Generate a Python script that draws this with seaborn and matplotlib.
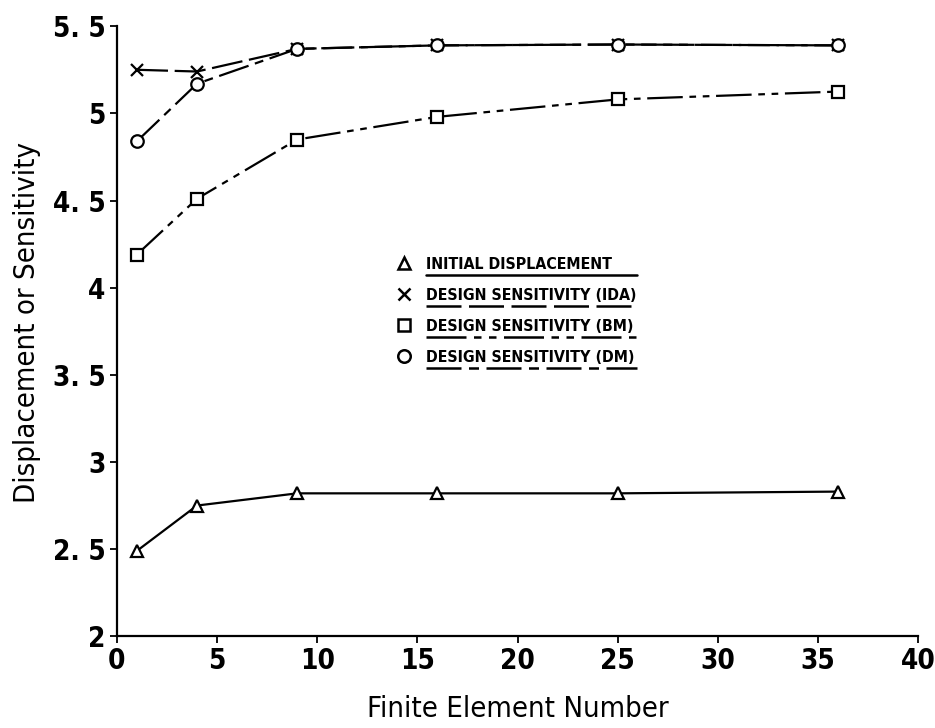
import matplotlib
matplotlib.use("Agg")
import matplotlib.pyplot as plt
import seaborn as sns
import pandas as pd
from matplotlib.lines import Line2D

# ---- data ----
elements = [1, 4, 9, 16, 25, 36]
initial_disp = [2.49, 2.75, 2.82, 2.82, 2.82, 2.83]
sens_ida = [5.25, 5.24, 5.37, 5.39, 5.395, 5.39]
sens_bm = [4.19, 4.51, 4.85, 4.98, 5.08, 5.125]
sens_dm = [4.84, 5.17, 5.37, 5.39, 5.395, 5.39]

series_names = ["INITIAL DISPLACEMENT", "DESIGN SENSITIVITY (IDA)",
                "DESIGN SENSITIVITY (BM)", "DESIGN SENSITIVITY (DM)"]
series_values = [initial_disp, sens_ida, sens_bm, sens_dm]
markers = ["^", "x", "s", "o"]
linestyles = ["-", (0, (14, 3)), (0, (16, 3, 3, 3, 3, 3)), (0, (14, 3, 4, 3))]

x_ticks = [0, 5, 10, 15, 20, 25, 30, 35, 40]
y_ticks = [2, 2.5, 3, 3.5, 4, 4.5, 5, 5.5]
y_tick_labels = ["2", "2. 5", "3", "3. 5", "4", "4. 5", "5", "5. 5"]

sns.set_style("ticks")
plt.rcParams["font.family"] = ["DejaVu Sans"]
plt.rcParams["font.stretch"] = "condensed"
plt.rcParams["text.color"] = "black"
plt.rcParams["axes.labelcolor"] = "black"
plt.rcParams["xtick.color"] = "black"
plt.rcParams["ytick.color"] = "black"

fig = plt.figure(figsize=(9.35, 7.28), dpi=100)
ax = fig.add_axes([0.125, 0.126, 0.857, 0.838])

for name, vals, mk, ls in zip(series_names, series_values, markers, linestyles):
    df = pd.DataFrame({"x": elements, "y": vals})
    sns.lineplot(data=df, x="x", y="y", ax=ax, color="black", linewidth=1.6,
                 linestyle=ls, marker=mk, markersize=9,
                 markerfacecolor="white" if mk != "x" else "black",
                 markeredgecolor="black", markeredgewidth=1.6)

ax.set_xlim(0, 40)
ax.set_ylim(2, 5.5)
ax.set_xticks(x_ticks)
ax.set_yticks(y_ticks)
ax.set_yticklabels(y_tick_labels)
ax.tick_params(axis="both", labelsize=20, width=1.3, length=5, direction="out", pad=3)
for lab in ax.get_xticklabels() + ax.get_yticklabels():
    lab.set_fontweight("bold")
    lab.set_fontstretch("condensed")
for s in ["top", "right"]:
    ax.spines[s].set_visible(False)
for s in ["left", "bottom"]:
    ax.spines[s].set_linewidth(1.6)
    ax.spines[s].set_color("black")

ax.set_xlabel("Finite Element Number", fontsize=21, labelpad=14, fontstretch="condensed")
ax.set_ylabel("Displacement or Sensitivity", fontsize=21, labelpad=14, fontstretch="condensed")
ax.yaxis.set_label_coords(-0.095, 0.515)

handles = [Line2D([], [], color="black", linestyle="none", marker=mk, markersize=9,
                  markerfacecolor="white" if mk != "x" else "black",
                  markeredgecolor="black", markeredgewidth=1.8) for mk in markers]
leg = ax.legend(handles, series_names, loc="upper left", bbox_to_anchor=(0.331, 0.645),
                frameon=False, handlelength=1.0, handletextpad=0.9, labelspacing=1.0,
                prop={"size": 11.4, "weight": "bold", "stretch": "condensed"})

fig.canvas.draw()
renderer = fig.canvas.get_renderer()
bbs = [t.get_window_extent(renderer) for t in leg.get_texts()]
x_left = min(b.x0 for b in bbs)
x_right = max(b.x1 for b in bbs)
for bb, ls in zip(bbs, linestyles):
    (x0, y0), (x1, _) = fig.transFigure.inverted().transform(
        [[x_left, bb.y0 - 3], [x_right, bb.y0 - 3]])
    fig.add_artist(Line2D([x0, x1], [y0, y0], color="black", linewidth=1.8,
                          linestyle=ls, transform=fig.transFigure))

fig.savefig("out.png", dpi=100, facecolor="white")
